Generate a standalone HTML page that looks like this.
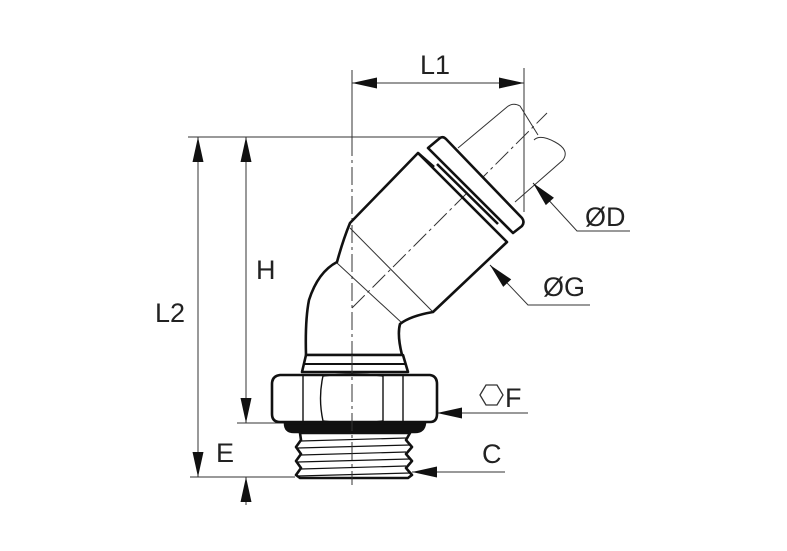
<!DOCTYPE html>
<html><head><style>
html,body{margin:0;padding:0;background:#fff;}
svg{display:block}
text{font-family:"Liberation Sans",sans-serif;fill:#222;font-size:27px}
</style></head><body>
<svg width="787" height="551" viewBox="0 0 787 551" xmlns="http://www.w3.org/2000/svg">
<defs>
<path id="ar" d="M0,0 L-25,-5.5 L-25,5.5 Z" fill="#111"/>
</defs>
<g stroke="#333" stroke-width="1" fill="none">
<line x1="188" y1="137" x2="440" y2="137"/>
<line x1="190" y1="477" x2="295" y2="477"/>
<line x1="237" y1="423" x2="285" y2="423"/>
<line x1="524" y1="68" x2="524" y2="212"/>
<line x1="352" y1="70" x2="352" y2="138"/>
<line x1="352" y1="83" x2="524" y2="83"/>
<line x1="198" y1="137" x2="198" y2="477"/>
<line x1="246" y1="137" x2="246" y2="423"/>
<line x1="246" y1="505" x2="246" y2="477"/>
<polyline points="630,231 577,231 533,183"/>
<polyline points="590,305 528,305 490,265"/>
<line x1="528" y1="413" x2="437" y2="413"/>
<line x1="505" y1="472" x2="412" y2="472"/>
<line x1="352" y1="138" x2="352" y2="485" stroke-dasharray="18,4,3,4"/>
<line x1="352" y1="308" x2="547" y2="113" stroke-dasharray="18,4,3,4"/>
<path d="M458,148 L507,107 Q513,102 520,106 L538,135 M515,202 L563,160 Q570,150 555,142 Q540,134 534,140"/>
<line x1="350" y1="228" x2="433" y2="312"/>
<line x1="337" y1="263" x2="402" y2="323"/>
</g>
<!-- arrowheads -->
<use href="#ar" transform="translate(352,83) rotate(180)"/>
<use href="#ar" transform="translate(524,83)"/>
<use href="#ar" transform="translate(198,137) rotate(-90)"/>
<use href="#ar" transform="translate(198,477) rotate(90)"/>
<use href="#ar" transform="translate(246,137) rotate(-90)"/>
<use href="#ar" transform="translate(246,423) rotate(90)"/>
<use href="#ar" transform="translate(246,477) rotate(-90)"/>
<use href="#ar" transform="translate(533,183) rotate(-132.5)"/>
<use href="#ar" transform="translate(490,265) rotate(-133.5)"/>
<use href="#ar" transform="translate(437,413) rotate(180)"/>
<use href="#ar" transform="translate(412,472) rotate(180)"/>
<g stroke="#111" stroke-width="2.6" fill="none" stroke-linejoin="round">
<path d="M428,148 L440,138 Q443,136 446,139 L522,218 Q525,222 522,226 L513,233 Z" fill="#fff"/>
<line x1="437" y1="164" x2="498" y2="224"/>
<path d="M418,153 L507,242 L433,312 Q410,316 400,324 Q397,335 402,355 L306,355 Q305,320 309,300 Q318,272 337,262 Q343,240 350,223 Z"/>
<line x1="418" y1="153" x2="434" y2="167"/>
<path d="M306,355 L403,355 L408,372 L302,372 Z" fill="#fff"/>
<line x1="305" y1="364" x2="405" y2="364" stroke-width="2"/>
<path d="M280,375 L430,375 Q437,376 437,384 L437,414 Q437,422 430,422 L280,422 Q272,422 272,414 L272,384 Q272,376 280,375 Z" fill="#fff"/>
<g stroke-width="1.4">
<line x1="303" y1="376" x2="303" y2="421"/>
<line x1="383" y1="376" x2="383" y2="421"/>
<line x1="403" y1="376" x2="403" y2="421"/>
<path d="M323,376 Q318,398 323,421 M323,376 Q353,372 383,376 M323,421 Q353,425 383,421"/>
</g>
<path d="M285,423 L425,423 Q424,432 415,432 L294,432 Q285,432 285,423 Z" fill="#111"/>
<path d="M300,433 L410,433 L406,440 L412,447 L406,454 L412,461 L406,468 L412,475 L408,478 L300,478 L296,475 L301,468 L296,461 L301,454 L296,447 L301,440 Z" fill="#fff"/>
<g stroke-width="1.2">
<line x1="301" y1="441" x2="406" y2="438"/>
<line x1="298" y1="448" x2="410" y2="445"/>
<line x1="301" y1="455" x2="406" y2="452"/>
<line x1="298" y1="462" x2="410" y2="459"/>
<line x1="301" y1="469" x2="406" y2="466"/>
<line x1="298" y1="476" x2="410" y2="473"/>
</g>
</g>
<line x1="352" y1="355" x2="352" y2="485" stroke="#333" stroke-width="1" stroke-dasharray="18,4,3,4"/>
<polygon points="480,395 486,385 497,385 503,395 497,405 486,405" fill="none" stroke="#333" stroke-width="1.3"/>
<text x="420" y="74">L1</text>
<text x="155" y="322">L2</text>
<text x="256" y="279">H</text>
<text x="216" y="462">E</text>
<text x="505" y="407">F</text>
<text x="482" y="463">C</text>
<text x="585" y="226">ØD</text>
<text x="543" y="296">ØG</text>
</svg>
</body></html>
